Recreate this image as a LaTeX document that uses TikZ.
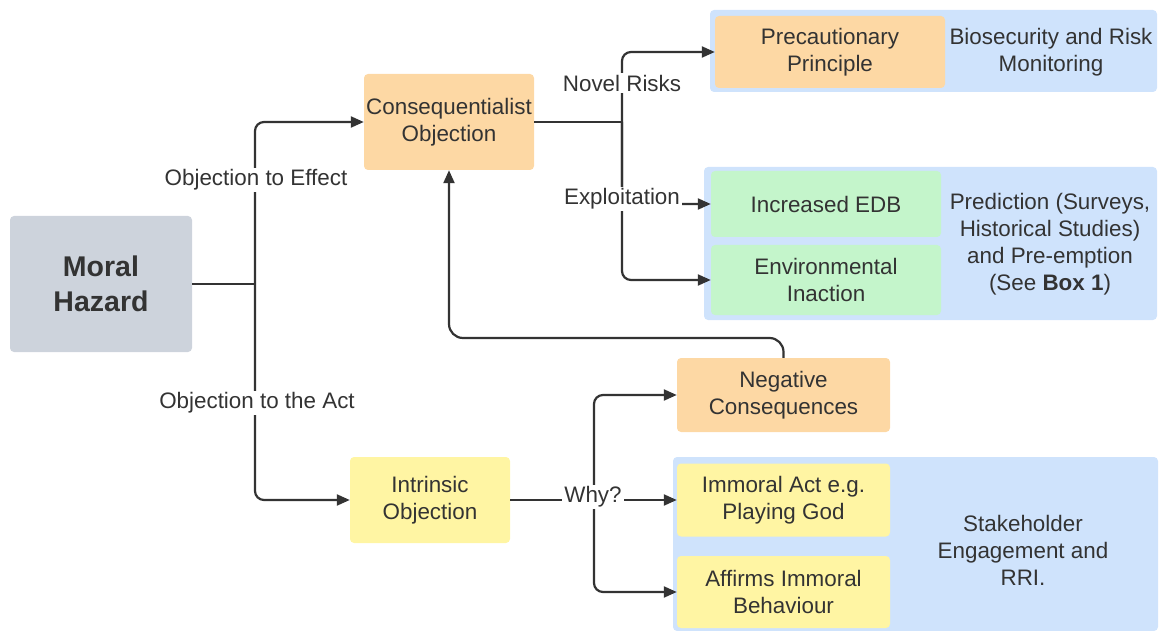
\documentclass[tikz,border=0pt]{standalone}
\usepackage{fontspec}
\setmainfont{Liberation Sans}
\usetikzlibrary{arrows.meta}
\definecolor{txt}{HTML}{333333}
\definecolor{ln}{HTML}{333333}
\definecolor{cgray}{HTML}{CDD3DC}
\definecolor{corange}{HTML}{FDD8A4}
\definecolor{cgreen}{HTML}{C4F5CB}
\definecolor{cyellow}{HTML}{FFF5A3}
\definecolor{cblue}{HTML}{CFE3FC}
\begin{document}
\begin{tikzpicture}[x=1pt,y=-1pt,
  every node/.style={font=\fontsize{22.4}{27}\selectfont, text=txt},
  box/.style={rounded corners=4pt, inner sep=0pt, align=center},
  plain/.style={inner sep=0pt, align=center},
  lbl/.style={fill=white, inner sep=2pt, align=center},
  conn/.style={draw=ln, line width=2.2pt, rounded corners=9pt},
  arr/.style={conn, -{Triangle[length=13pt,width=11pt]}}]
\useasboundingbox (0,0) rectangle (1160,631);
% group boxes
\node[box, fill=cblue, minimum width=447pt, minimum height=82pt] (blue1) at (933.5,51) {};
\node[box, fill=cblue, minimum width=453pt, minimum height=153pt] (blue2) at (930.5,243.5) {};
\node[box, fill=cblue, minimum width=485pt, minimum height=174pt] (blue3) at (915.5,544) {};
% main boxes
\node[box, fill=cgray, minimum width=182pt, minimum height=136pt, font=\fontsize{28.5}{35}\selectfont\bfseries] (mh) at (101,284) {Moral\\Hazard};
\node[box, fill=corange, minimum width=170pt, minimum height=96pt] (cons) at (449,122) {Consequentialist\\Objection};
\node[box, fill=corange, minimum width=230pt, minimum height=72pt] (prec) at (830,52) {Precautionary\\Principle};
\node[plain] (bio) at (1051,52) {Biosecurity and Risk\\Monitoring};
\node[box, fill=cgreen, minimum width=230pt, minimum height=66pt] (edb) at (826,204) {Increased EDB};
\node[box, fill=cgreen, minimum width=230pt, minimum height=70pt] (env) at (826,280) {Environmental\\Inaction};
\node[plain] (pred) at (1050,244) {Prediction (Surveys,\\Historical Studies)\\and Pre-emption\\(See \textbf{Box 1})};
\node[box, fill=corange, minimum width=213pt, minimum height=74pt] (neg) at (783.5,395) {Negative\\Consequences};
\node[box, fill=cyellow, minimum width=160pt, minimum height=86pt] (intr) at (430,500) {Intrinsic\\Objection};
\node[box, fill=cyellow, minimum width=213pt, minimum height=73pt] (imm) at (783.5,500) {Immoral Act e.g.\\Playing God};
\node[box, fill=cyellow, minimum width=213pt, minimum height=72pt] (aff) at (783.5,592) {Affirms Immoral\\Behaviour};
\node[plain] (stake) at (1023,550) {Stakeholder\\Engagement and\\RRI.};
% junctions
\coordinate (j1) at (255,284);
\coordinate (j2) at (622,122);
\coordinate (j3) at (594,500);
\coordinate (fb) at (449,338);
% connectors
\draw[conn] (mh.east) -- (j1);
\draw[arr] (j1) |- (cons.west);
\draw[arr] (j1) |- (intr.west);
\draw[conn] (cons.east) -- (j2);
\draw[arr] (j2) |- (prec.west);
\draw[arr] (j2) |- (env.west);
\draw[arr] (j2) |- (edb.west);
\draw[conn] (intr.east) -- (j3);
\draw[arr] (j3) |- (neg.west);
\draw[arr] (j3) -- (imm.west);
\draw[arr] (j3) |- (aff.west);
\draw[arr, rounded corners=14pt] (neg.north) |- (fb) -- (cons.south);
% labels
\node[lbl] (l1) at (256,180) {Objection to Effect};
\node[lbl] (l2) at (257,403) {Objection to the Act};
\node[lbl] (l3) at (622,83) {Novel Risks};
\node[lbl] (l4) at (622,199) {Exploitation};
\node[lbl] (l5) at (593,497) {Why?};
\end{tikzpicture}
\end{document}
